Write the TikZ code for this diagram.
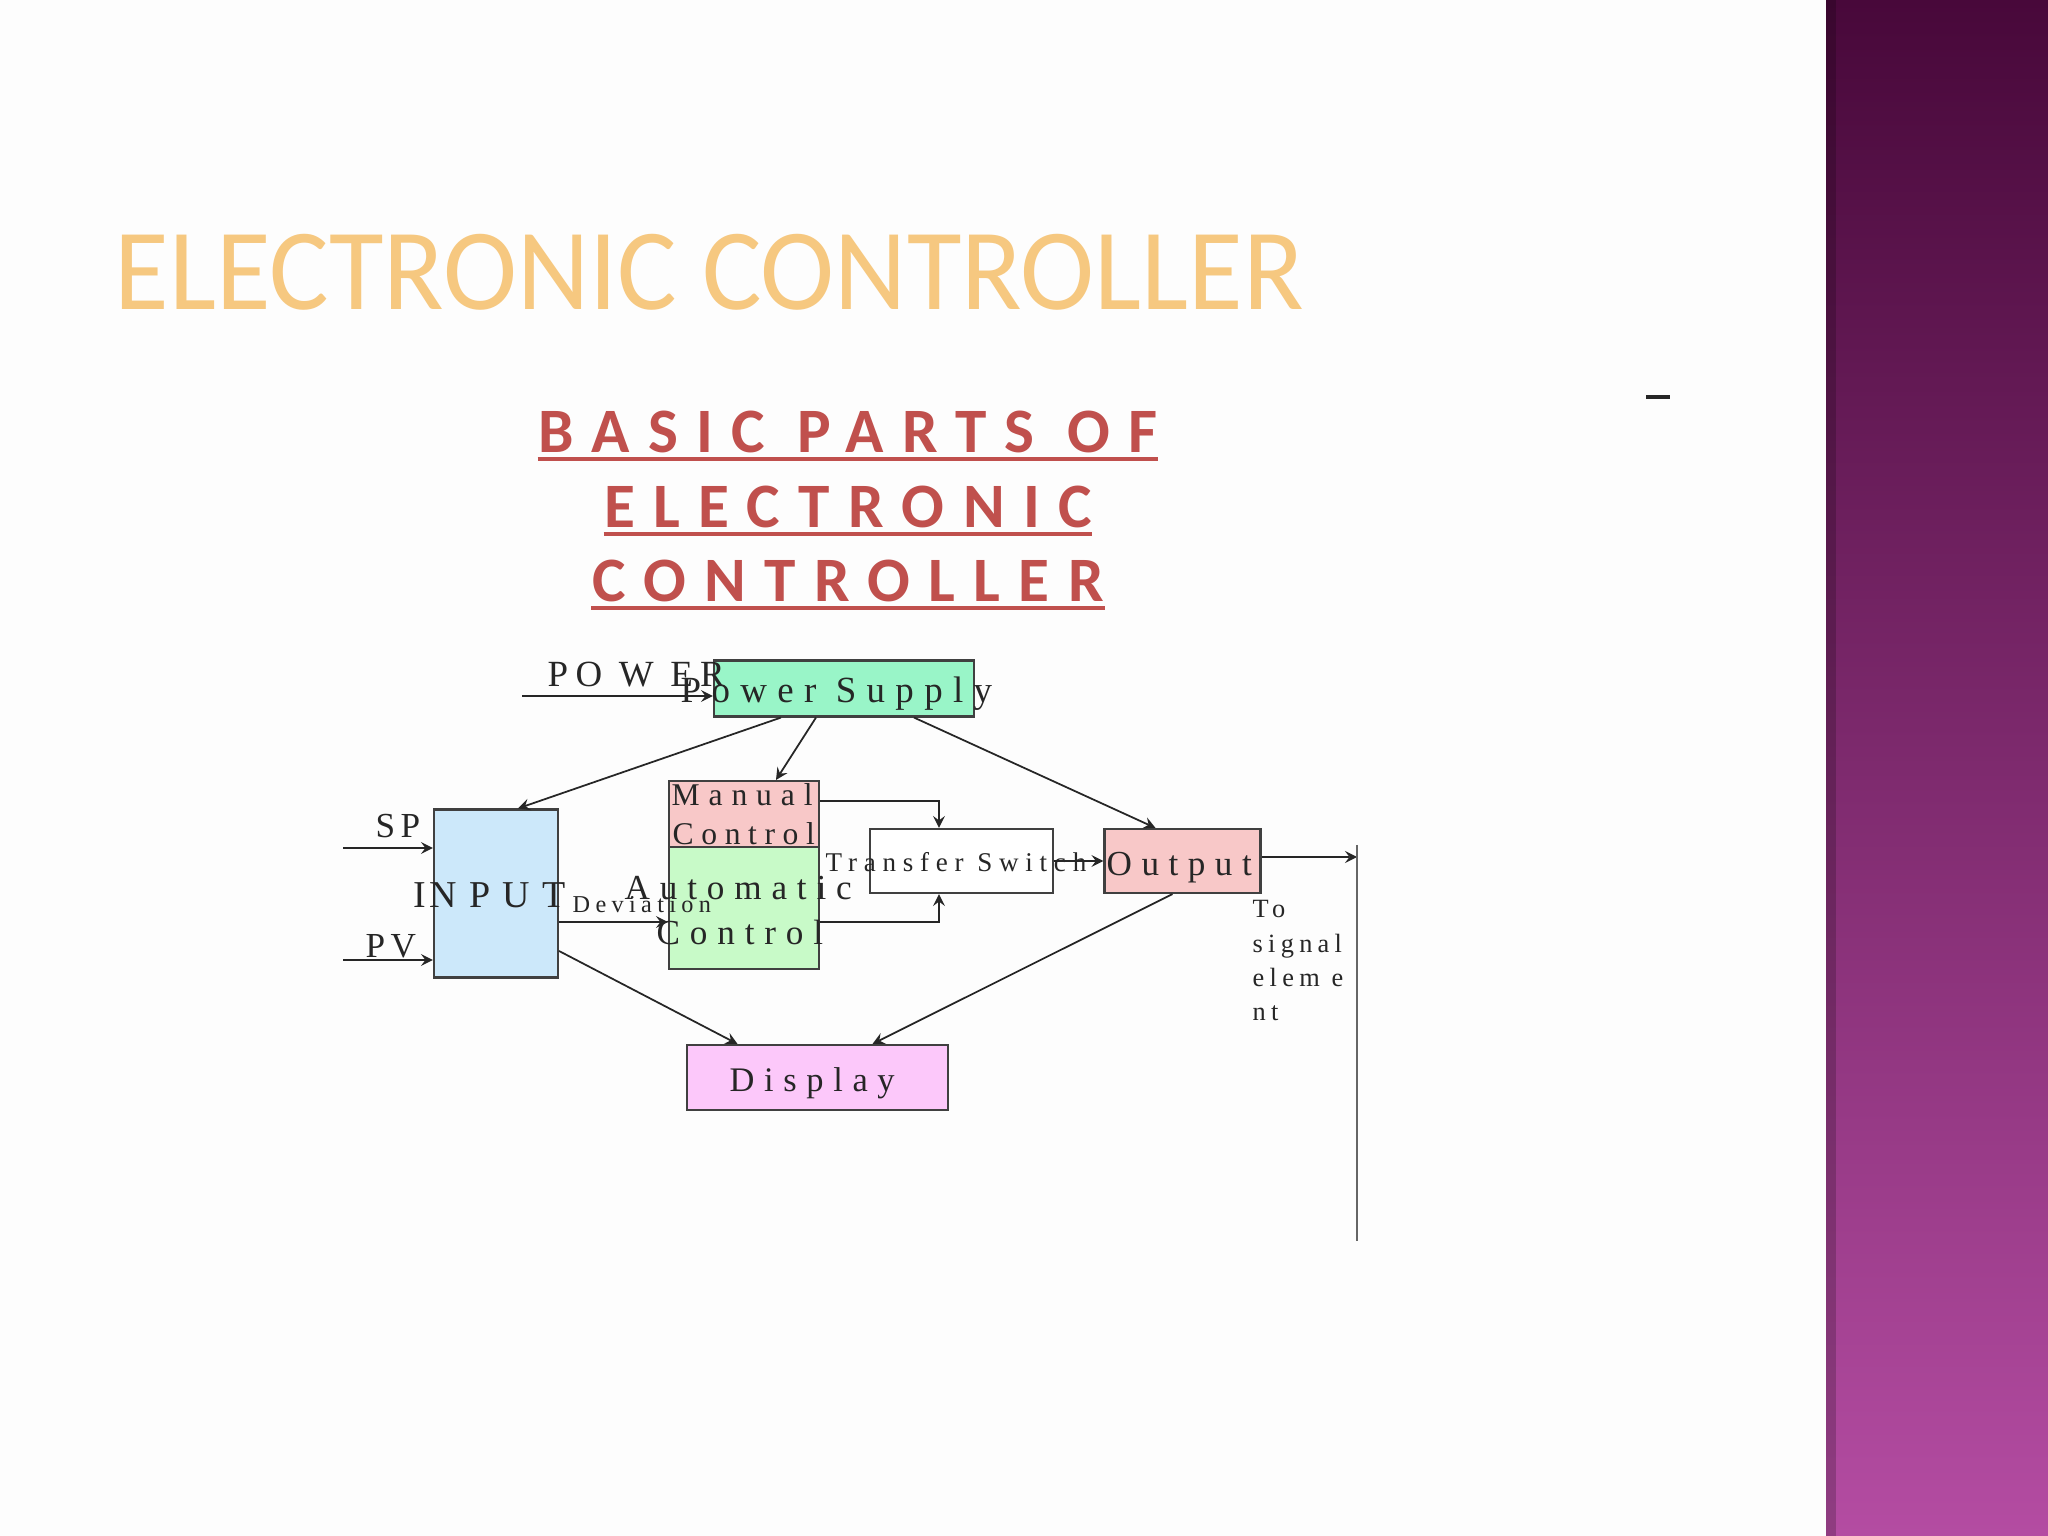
\documentclass[tikz,border=0pt]{standalone}
\usepackage{fontspec}
\setmainfont{Liberation Serif}
\newfontfamily\slidefont{Carlito}

\definecolor{slidebg}{RGB}{253,253,253}
\definecolor{psfill}{RGB}{153,245,200}
\definecolor{infill}{RGB}{204,232,250}
\definecolor{redfill}{RGB}{248,200,200}
\definecolor{grnfill}{RGB}{200,250,200}
\definecolor{dspfill}{RGB}{252,200,250}
\definecolor{headred}{RGB}{192,80,77}
\definecolor{titleorange}{RGB}{246,200,128}
\definecolor{plumtop}{RGB}{72,8,58}
\definecolor{plummid}{RGB}{128,45,112}
\definecolor{plumbot}{RGB}{180,76,162}

\newcommand{\lsp}[2]{{\addfontfeature{LetterSpace=#1}#2}}

\begin{document}
\begin{tikzpicture}[>=stealth,
  box/.style={draw=black!75,line width=0.6pt,inner sep=0pt},
  txt/.style={anchor=base west,inner sep=0pt,text=black!85,font={\fontsize{#1}{#1}\selectfont}},
  wire/.style={->,line width=0.5pt,black!85},
  head/.style={anchor=base,inner sep=0pt,text=headred,font={\slidefont\bfseries\fontsize{18}{20}\selectfont\addfontfeature{LetterSpace=29}}},
  uline/.style={headred,line width=1.4pt}]
\useasboundingbox (0,0) rectangle (20.48,-15.36);
\fill[slidebg] (0,0) rectangle (20.48,-15.36);
\shade[top color=plumtop,middle color=plummid,bottom color=plumbot] (18.26,0) rectangle (20.48,-15.36);
\fill[black,opacity=0.2] (18.26,0) rectangle (18.36,-15.36);

\node[anchor=base west,inner sep=0pt,text=titleorange,font={\slidefont\fontsize{33}{36}\selectfont},xscale=0.963,transform shape] (title) at (1.14,-3.10) {ELECTRONIC CONTROLLER};
\node[head] (sub1) at (8.48,-4.53) {BASIC PARTS OF};
\node[head] (sub2) at (8.48,-5.28) {ELECTRONIC};
\node[head] (sub3) at (8.48,-6.02) {CONTROLLER};
\draw[uline] ([yshift=-0.06cm]sub1.base west) -- ([yshift=-0.06cm]sub1.base east);
\draw[uline] ([yshift=-0.06cm]sub2.base west) -- ([yshift=-0.06cm]sub2.base east);
\draw[uline] ([yshift=-0.06cm]sub3.base west) -- ([yshift=-0.06cm]sub3.base east);
\node[fill=black!85,minimum width=0.24cm,minimum height=0.045cm,inner sep=0pt] (dash) at (16.58,-3.97) {};

\node[box,fill=psfill,minimum width=2.60cm,minimum height=0.56cm] (ps) at (8.44,-6.885) {};
\node[box,fill=infill,minimum width=1.24cm,minimum height=1.68cm] (inp) at (4.96,-8.935) {};
\node[box,fill=redfill,minimum width=1.50cm,minimum height=0.66cm] (man) at (7.44,-8.14) {};
\node[box,fill=grnfill,minimum width=1.50cm,minimum height=1.22cm] (auto) at (7.44,-9.08) {};
\node[box,fill=white,minimum width=1.83cm,minimum height=0.64cm] (ts) at (9.615,-8.61) {};
\node[box,fill=redfill,minimum width=1.56cm,minimum height=0.64cm] (out) at (11.825,-8.61) {};
\node[box,fill=dspfill,minimum width=2.61cm,minimum height=0.65cm] (disp) at (8.175,-10.775) {};

\coordinate (pwrin) at (5.22,-6.96);
\coordinate (spin) at (3.43,-8.48);
\coordinate (pvin) at (3.43,-9.60);
\coordinate (sigtop) at (13.57,-8.45);
\coordinate (sigbot) at (13.57,-12.41);

\draw[wire] (pwrin) -- (pwrin -| ps.west);
\draw[wire] (spin) -- (spin -| inp.west);
\draw[wire] (pvin) -- (pvin -| inp.west);
\draw[wire] ([xshift=-6.3mm]ps.south) -- ([xshift=2.2mm]inp.north);
\draw[wire] ([xshift=-2.8mm]ps.south) -- ([xshift=3.2mm]man.north);
\draw[wire] ([xshift=7mm]ps.south) -- ([xshift=-2.7mm]out.north);
\draw[wire] ([yshift=-2.85mm]inp.east) -- ([yshift=-2.85mm]inp.east -| auto.west);
\draw[wire] ([yshift=1.3mm]man.east) -| ([xshift=-2.25mm]ts.north);
\draw[wire] ([yshift=-1.4mm]auto.east) -| ([xshift=-2.25mm]ts.south);
\draw[wire] (ts.east) -- (out.west);
\draw[wire] ([yshift=0.4mm]out.east) -- ([yshift=0.4mm]out.east -| sigtop);
\draw[line width=0.5pt,black!60] (sigtop) -- (sigbot);
\draw[wire] ([yshift=-5.75mm]inp.east) -- ([xshift=-8mm]disp.north);
\draw[wire] ([xshift=-1mm]out.south) -- ([xshift=5.5mm]disp.north);

\node[txt=10.5] (pwrlbl) at (5.47,-6.87) {\lsp{20}{PO W ER}};
\node[txt=10.5] (pslbl) at (6.80,-7.02) {\lsp{28}{Power Supply}};
\node[txt=10] (splbl) at (3.75,-8.37) {\lsp{15}{SP}};
\node[txt=10] (pvlbl) at (3.65,-9.58) {\lsp{15}{PV}};
\node[txt=10.8] (inplbl) at (4.13,-9.07) {\lsp{8}{IN P U T}};
\node[txt=6.9] (devlbl) at (5.72,-9.12) {\lsp{22}{Deviation}};
\node[txt=9] (manlbl) at (6.71,-8.06) {\lsp{28}{Manual}};
\node[txt=9] (mctllbl) at (6.72,-8.44) {\lsp{24}{Control}};
\node[txt=10] (autolbl) at (6.24,-8.99) {\lsp{28}{Automatic}};
\node[txt=10] (actllbl) at (6.56,-9.44) {\lsp{28}{Control}};
\node[txt=7.7] (tslbl) at (8.25,-8.71) {\lsp{25}{Transfer Switch}};
\node[txt=10] (outlbl) at (11.06,-8.75) {\lsp{27}{Output}};
\node[txt=9.8] (displbl) at (7.29,-10.91) {\lsp{28}{Display}};
\node[anchor=north west,inner sep=0pt,text=black!85,align=left,font={\fontsize{7.5}{9.7}\selectfont}] (siglbl) at (12.52,-9.00) {\lsp{20}{To}\\\lsp{20}{signal}\\\lsp{20}{elem e}\\\lsp{20}{nt}};
\end{tikzpicture}
\end{document}
